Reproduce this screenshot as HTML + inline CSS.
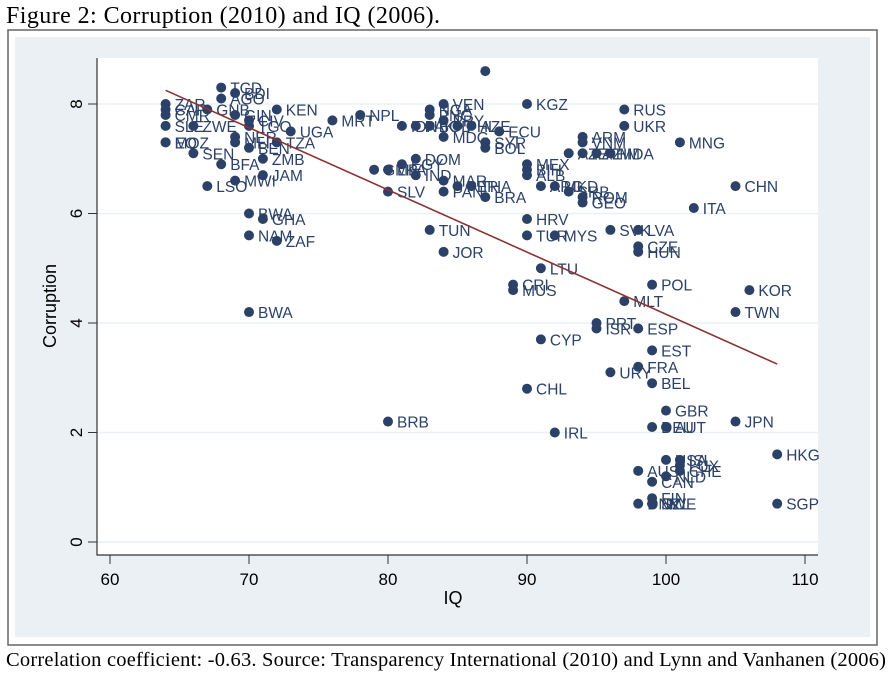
<!DOCTYPE html>
<html><head><meta charset="utf-8"><style>
body{margin:0;background:#fff;width:892px;height:678px;overflow:hidden}
svg text{font-family:"Liberation Sans",sans-serif}
</style></head><body>
<svg id="chart" width="892" height="678">
<text x="6" y="23" style="font-family:'Liberation Serif',serif" font-size="24" textLength="434">Figure 2: Corruption (2010) and IQ (2006).</text>
<rect x="8" y="30" width="869" height="615" fill="#fff" stroke="#666" stroke-width="1.5"/>
<rect x="15" y="37" width="855" height="600" fill="#eaf0f3"/>
<rect x="97" y="58" width="721" height="497" fill="#fff"/>
<g id="grid"></g><g id="axes"></g><g id="marks"></g>
<text x="453" y="604" font-size="18" text-anchor="middle">IQ</text>
<text transform="translate(56,306) rotate(-90)" font-size="18" text-anchor="middle">Corruption</text>
<text x="6" y="666" style="font-family:'Liberation Serif',serif" font-size="20.5" textLength="880">Correlation coefficient: -0.63. Source: Transparency International (2010) and Lynn and Vanhanen (2006)</text>
</svg>
<script>
const xTicks=[60,70,80,90,100,110];
const yTicks=[0,2,4,6,8];
const codes=["ZAR","CAF","CMR","SLE","ZWE","MOZ","EQ","SEN","LSO","BFA","TCD","AGO","BDI","GNB","GIN","CIV","KEN","TGO","NER","MLI","BEN","TZA","UGA","ZMB","JAM","MWI","MRT","NPL","BWA","GHA","NAM","ZAF","BWA","BRB","GMB","SLV","IDN","PAK","BGD","MDG","NGA","VEN","PNG","PRY","PHL","AZE","ECU","","KGZ","SYR","BOL","DOM","EGY","LKA","IND","MAR","PAN","PER","THA","BRA","MEX","BIH","ALB","ARG","MKD","SRB","ROM","GEO","HRV","TUN","TUR","MYS","JOR","SVK","LVA","CZE","HUN","LTU","CRI","MUS","POL","KOR","TWN","MLT","PRT","ISR","ESP","CYP","EST","FRA","URY","BEL","CHL","GBR","JPN","IRL","DEU","AUT","HKG","SGP","USA","ISL","LUX","CHE","AUS","NLD","CAN","FIN","SWE","DNK","NZL","RUS","UKR","MNG","ARM","VNM","KAZ","AZE","MDA","KHM","CHN","ITA"];
const iq=[64,64,64,64,66,64,64,66,67,68,68,68,69,67,69,70,72,70,69,69,70,72,73,71,71,69,76,78,70,71,70,72,70,80,79,80,81,82,83,84,83,84,83,84,85,86,88,87,90,87,87,82,81,80,82,84,84,85,86,87,90,90,90,91,92,93,94,94,90,83,90,92,84,96,98,98,98,91,89,89,99,106,105,97,95,95,98,91,99,98,96,99,90,100,105,92,99,100,108,108,100,101,101,101,98,100,99,99,99,98,99,97,97,101,94,94,94,93,96,95,105,102];
const corr=[8.0,7.9,7.8,7.6,7.6,7.3,7.3,7.1,6.5,6.9,8.3,8.1,8.2,7.9,7.8,7.7,7.9,7.6,7.4,7.3,7.2,7.3,7.5,7.0,6.7,6.6,7.7,7.8,6.0,5.9,5.6,5.5,4.2,2.2,6.8,6.4,7.6,7.6,7.6,7.4,7.9,8.0,7.8,7.7,7.6,7.6,7.5,8.6,8.0,7.3,7.2,7.0,6.9,6.8,6.7,6.6,6.4,6.5,6.5,6.3,6.9,6.8,6.7,6.5,6.5,6.4,6.3,6.2,5.9,5.7,5.6,5.6,5.3,5.7,5.7,5.4,5.3,5.0,4.7,4.6,4.7,4.6,4.2,4.4,4.0,3.9,3.9,3.7,3.5,3.2,3.1,2.9,2.8,2.4,2.2,2.0,2.1,2.1,1.6,0.7,1.5,1.5,1.4,1.3,1.3,1.2,1.1,0.8,0.7,0.7,0.7,7.9,7.6,7.3,7.4,7.3,7.1,7.1,7.1,7.1,6.5,6.1];
const fitX=[64,108];
const fitY=[8.25,3.25];
const X=v=>110+(v-60)*13.9, Y=v=>542-v*54.75;
const ns='http://www.w3.org/2000/svg';
function mk(t,a,p){const e=document.createElementNS(ns,t);for(const k in a)e.setAttribute(k,a[k]);document.getElementById(p).appendChild(e);return e;}
yTicks.forEach(t=>{
 const g=mk('line',{x1:97,x2:818,y1:Y(t),y2:Y(t),stroke:'#eaf0f3','stroke-width':1.5},'grid');
 
 
 const tk=mk('line',{x1:88,x2:97,y1:Y(t),y2:Y(t),stroke:'#333'},'axes');
 
 
 const l=mk('text',{transform:`translate(82,${Y(t)}) rotate(-90)`,'font-size':17,'text-anchor':'middle'},'axes');
 l.textContent=t;
 
 
});
xTicks.forEach(t=>{
 const tk=mk('line',{x1:X(t),x2:X(t),y1:555,y2:564,stroke:'#333'},'axes');
 
 
 const l=mk('text',{x:X(t),y:585,'font-size':17,'text-anchor':'middle'},'axes');
 l.textContent=t;
 
 
});
const ax=mk('path',{d:'M97,58V555H818',fill:'none',stroke:'#333','stroke-width':1.2},'axes');


iq.forEach((v,i)=>{
 const c=mk('circle',{cx:X(v),cy:Y(corr[i]),r:5,fill:'#2b4168'},'marks');
 
 
 if(codes[i]){
 const l=mk('text',{x:X(v)+9,y:Y(corr[i])+6,'font-size':15.5,fill:'#2b4168'},'marks');
 l.textContent=codes[i];
 
 
 }
});
const f=mk('line',{x1:X(fitX[0]),y1:Y(fitY[0]),x2:X(fitX[1]),y2:Y(fitY[1]),stroke:'#8b3232','stroke-width':1.6},'marks');


</script>
</body></html>
